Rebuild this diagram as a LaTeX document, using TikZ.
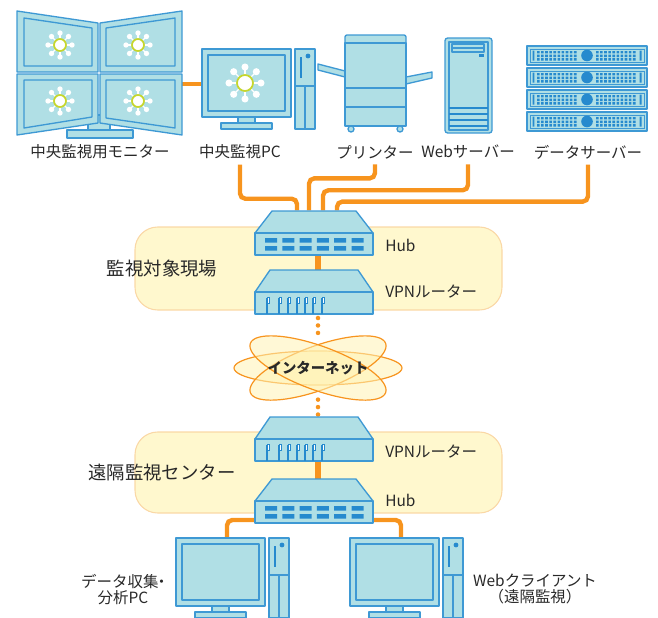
\documentclass[tikz,border=0pt]{standalone}
\usepackage{fontspec}
\setmainfont{Noto Sans CJK JP}
\usepackage{tikz}
\usetikzlibrary{shapes.geometric}

\definecolor{devfill}{RGB}{176,223,229}
\definecolor{devline}{RGB}{62,153,212}
\definecolor{devdark}{RGB}{38,138,206}
\definecolor{cable}{RGB}{247,148,30}
\definecolor{zonefill}{RGB}{255,248,206}
\definecolor{zoneline}{RGB}{250,216,166}
\definecolor{netfill}{RGB}{255,242,180}
\definecolor{ringgreen}{RGB}{198,214,44}
\definecolor{txt}{RGB}{40,40,40}

\tikzset{
  netmark/.pic={
    \foreach \a in {0,45,...,315}{
      \draw[white, line width=1pt] (0,0) -- (\a:#1);
      \fill[white] (\a:#1) circle (#1/4.5);
    }
    \draw[ringgreen, fill=white, line width=1.3pt] (0,0) circle (#1/2);
  },
  pcset/.pic={
    \draw[dev] (36,66) rectangle (53,74);
    \draw[dev] (19,74) rectangle (70,80);
    \draw[dev] (0,0) rectangle (89,68);
    \draw[dev] (6,6) rectangle (83,62);
    \draw[dev] (93,0) rectangle (113,80);
    \draw[devdark, line width=1.7pt] (99,8) -- (99,29);
    \fill[devdark] (106,7) circle (2.4);
    \draw[devline, line width=1pt] (93,37) -- (113,37) (103,37) -- (103,80);
    \coordinate (-left) at (0,35);
    \coordinate (-top) at (51,2);
  },
  hubset/.pic={
    \draw[dev] (17,-22) -- (101,-22) -- (118,0) -- (0,0) -- cycle;
    \draw[dev] (0,0) rectangle (118,22);
    \foreach \i in {0,...,5}
      \fill[devdark] (10+17.3*\i,5) rectangle ++(12,4.5)
                     (10+17.3*\i,13) rectangle ++(12,4.5);
    \coordinate (-top) at (63,-20);
    \coordinate (-bottom) at (63,22);
    \coordinate (-west) at (2,19);
    \coordinate (-east) at (116,19);
  },
  routerset/.pic={
    \draw[dev] (15,-22) -- (103,-22) -- (118,0) -- (0,0) -- cycle;
    \draw[dev] (0,0) rectangle (118,22);
    \foreach \x in {12,24,33,42,50,58,67}{
      \draw[devdark, line width=1pt] (\x,6) -- (\x,22);
      \draw[devdark, fill=white, line width=0.6pt] (\x,5) rectangle ++(2.8,6.5);
    }
    \coordinate (-top) at (63,-20);
    \coordinate (-bottom) at (63,21);
  },
  rackunit/.pic={
    \draw[dev] (0,0) rectangle (120,19);
    \draw[devline, line width=0.6pt] (3,3) rectangle (117,16);
    \fill[devdark] (5.5,4.5) rectangle ++(1.8,10) (112.7,4.5) rectangle ++(1.8,10);
    \foreach \c in {0,...,9}
      \foreach \r in {0,1,2}
        \fill[devdark] (10+4.1*\c,5+3.6*\r) rectangle ++(2.6,2.4)
                       (69+4.1*\c,5+3.6*\r) rectangle ++(2.6,2.4);
    \fill[devdark] (60,9.5) circle (5.8);
  }
}

\begin{document}
\begin{tikzpicture}[x=0.75pt, y=-0.75pt,
    dev/.style={draw=devline, fill=devfill, line width=1pt, line join=round},
    cable/.style={draw=cable, line width=3.3pt, rounded corners=4pt},
    link/.style={draw=cable, line width=4.5pt},
    dotline/.style={draw=cable, line width=3.4pt, line cap=round, dash pattern=on 0pt off 5.6pt},
    zone/.style={draw=zoneline, fill=zonefill, line width=0.8pt, rounded corners=17pt},
    cloud/.style={draw=cable, line width=0.9pt, fill=netfill, fill opacity=0.55},
    lbl/.style={font=\fontsize{11.6pt}{12pt}\selectfont, text=txt, inner sep=4pt},
    sidelbl/.style={lbl, anchor=west, inner sep=0pt},
    zonelbl/.style={font=\fontsize{13.8pt}{15pt}\selectfont, text=txt, inner sep=0pt},
    inettxt/.style={font=\bfseries\fontsize{10.8pt}{12pt}\selectfont, text=txt, inner sep=0pt}
    ]
    \useasboundingbox (0,0) rectangle (658,618);
    \clip (0,0) rectangle (658,618);

    \draw[zone] (135,227) rectangle (502,310);
    \draw[zone] (135,432) rectangle (502,513);
    \node[zonelbl] (site) at (162,269) {監視対象現場};
    \node[zonelbl] (center) at (162,473) {遠隔監視センター};

    \begin{scope}[shift={(318,368)}]
        \draw[cloud] (0,0) ellipse [x radius=84, y radius=17];
        \draw[cloud, rotate=20] (0,0) ellipse [x radius=72, y radius=22];
        \draw[cloud, rotate=-20] (0,0) ellipse [x radius=72, y radius=22];
    \end{scope}
    \node[inettxt, shape=ellipse, minimum width=126pt, minimum height=47pt] (inet) at (318,368) {インターネット};

    \node[lbl] (monlbl) at (100,152) {中央監視用モニター};
    \node[lbl] (pclbl) at (240,152) {中央監視PC};
    \node[lbl] (prnlbl) at (375,152) {プリンター};
    \node[lbl] (weblbl) at (468,152) {Webサーバー};
    \node[lbl] (datlbl) at (588,152) {データサーバー};
    \node[sidelbl] (hub1lbl) at (385,245) {Hub};
    \node[sidelbl] (rt1lbl) at (385,292) {VPNルーター};
    \node[sidelbl] (rt2lbl) at (385,452) {VPNルーター};
    \node[sidelbl] (hub2lbl) at (385,500) {Hub};
    \node[lbl, align=center] (pcllbl) at (123,590) {データ収集\kern-0.3em・\kern-0.3em\\分析PC};
    \node[lbl, align=center] (pcrlbl) at (535,589) {Webクライアント\\（遠隔監視）};

    \coordinate (monr) at (180,84);
    \coordinate (hub1) at (255,233);
    \coordinate (rt1) at (255,292);
    \coordinate (rt2) at (255,439);
    \coordinate (hub2) at (255,501);

    \draw[cable] (monr) -- (204,84);
    \draw[cable] (pclbl.south) -- ++(0,34) -| ([xshift=42*0.75pt, yshift=17pt]hub1);
    \draw[cable] (prnlbl.south) -- ++(0,14) -| ([xshift=54*0.75pt, yshift=17pt]hub1);
    \draw[cable] (weblbl.south) -- ++(0,26) -| ([xshift=68*0.75pt, yshift=17pt]hub1);
    \draw[cable] (datlbl.south) -- ++(0,37) -| ([xshift=82*0.75pt, yshift=17pt]hub1);

    \draw[link] (318,252) -- (318,272);
    \draw[link] (318,460) -- (318,481);
    \draw[dotline] (318,318) -- (inet.north);
    \draw[dotline] (inet.south) -- (318,416);

    \draw[cable] (hub2) ++(2,19) -| (227,540);
    \draw[cable] (hub2) ++(116,19) -| (401,540);

    % quad monitor
    \draw[dev] (88,115) rectangle (110,130);
    \draw[dev] (67,130) rectangle (133,138);
    \draw[dev] (17,11) -- (98,23) -- (98,72) -- (17,72) -- cycle;
    \draw[dev] (24,18) -- (92,28) -- (92,66) -- (24,66) -- cycle;
    \draw[dev] (17,74) -- (98,74) -- (98,123) -- (17,135) -- cycle;
    \draw[dev] (24,80) -- (92,80) -- (92,117) -- (24,128) -- cycle;
    \draw[dev] (100,23) -- (182,11) -- (182,72) -- (100,72) -- cycle;
    \draw[dev] (106,28) -- (175,18) -- (175,66) -- (106,66) -- cycle;
    \draw[dev] (100,74) -- (182,74) -- (182,135) -- (100,123) -- cycle;
    \draw[dev] (106,80) -- (175,80) -- (175,128) -- (106,118) -- cycle;
    \foreach \p in {(60,45),(138,45),(60,101),(138,101)}
        \pic at \p {netmark=12};

    \pic (pc) at (202,49) {pcset};
    \pic at (245,83) {netmark=16};

    % printer
    \draw[dev] (318,64) -- (345,71) -- (345,77) -- (318,70) -- cycle;
    \draw[dev] (406,77) -- (432,72) -- (432,78) -- (406,84) -- cycle;
    \draw[dev] (351,129) circle (3);
    \draw[dev] (400,129) circle (3);
    \draw[dev, rounded corners=1.5pt] (345,43) -- (345,35) -- (406,35) -- (406,43);
    \draw[dev] (345,43) rectangle (406,88);
    \draw[dev] (345,88) rectangle (406,107);
    \draw[dev] (345,107) rectangle (406,126);

    % web server
    \draw[dev, rounded corners=2pt] (445,38) rectangle (492,133);
    \draw[dev] (449,42) rectangle (488,130);
    \draw[dev] (452,44) rectangle (484,48);
    \draw[dev] (452,48) rectangle (484,52);
    \fill[devdark] (479,54) rectangle (484,57);
    \foreach \y in {108,114,120,126}
        \draw[devdark, line width=2.2pt] (449,\y) -- (488,\y);

    % data server
    \foreach \y in {46,68,90,112}
        \pic at (527,\y) {rackunit};

    \pic (hubA) at (hub1) {hubset};
    \pic (rtA) at (rt1) {routerset};
    \pic (rtB) at (rt2) {routerset};
    \pic (hubB) at (hub2) {hubset};

    \pic (pcl) at (176,538) {pcset};
    \pic (pcr) at (350,538) {pcset};
\end{tikzpicture}
\end{document}
